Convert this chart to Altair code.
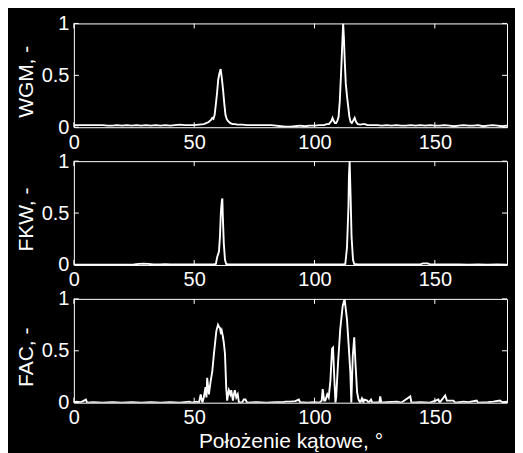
import altair as alt
import pandas as pd

X_TICKS = [0, 50, 100, 150]
Y_TICKS = [0, 0.5, 1]

# (angle, value) pairs
wgm = [(0, .02), (2, .02), (4, .02), (6, .02), (8, .02), (10, .02), (12, .02), (14, .015), (16, .015),
       (18, .02), (20, .015), (22, .02), (24, .015), (26, .02), (28, .015), (30, .02), (32, .015), (34, .02),
       (36, .015), (38, .02), (40, .015), (42, .02), (44, .025), (46, .02), (48, .02), (50, .02), (52, .025),
       (54, .03), (55, .04), (56, .05), (57, .07), (57.5, .09), (58, .08), (58.5, .12), (59, .22), (59.5, .33),
       (60, .46), (60.5, .52), (61, .56), (61.5, .47), (62, .36), (62.5, .23), (63, .12), (63.5, .08),
       (64, .06), (64.5, .05), (65, .04), (66, .03), (67, .03), (68, .025), (70, .025), (72, .02), (74, .02),
       (76, .02), (78, .02), (80, .02), (82, .02), (84, .015), (86, .01), (88, .005), (90, .005), (92, .01),
       (94, .015), (96, .01), (98, .015), (100, .015), (102, .02), (104, .02), (105, .03), (106, .03),
       (107, .06), (107.5, .09), (108, .06), (108.5, .04), (109, .04), (109.5, .06), (110, .1), (110.5, .25),
       (111, .5), (111.5, .78), (111.9, 1.0), (112.2, .87), (112.6, .62), (113, .42), (113.5, .3), (114, .2),
       (114.5, .1), (115, .05), (115.5, .04), (116, .06), (116.7, .09), (117.3, .05), (118, .03),
       (119, .025), (120, .03), (121, .03), (122, .02), (124, .02), (126, .02), (128, .015), (130, .02),
       (132, .015), (134, .02), (136, .015), (138, .015), (140, .02), (142, .015), (144, .02), (146, .015),
       (148, .02), (150, .015), (152, .015), (154, .02), (156, .015), (158, .01), (160, .015), (162, .02),
       (164, .015), (166, .015), (168, .02), (170, .01), (172, .015), (174, .02), (176, .015), (178, .01),
       (180, .015)]

fkw = [(0, .002), (5, .002), (10, .003), (15, .002), (20, .003), (25, .004), (27, .01), (29, .012),
       (31, .01), (33, .004), (36, .005), (38, .008), (40, .005), (44, .004), (48, .006), (52, .004),
       (56, .006), (58, .004), (59, .01), (59.6, .08), (60.3, .13), (60.7, .27), (61.1, .51), (61.5, .62),
       (61.7, .64), (61.9, .47), (62.3, .21), (62.8, .05), (63.3, .01), (64, .005), (68, .004), (72, .006),
       (76, .004), (80, .005), (84, .004), (88, .006), (92, .005), (96, .004), (100, .005), (104, .006),
       (108, .004), (112, .005), (112.8, .01), (113.5, .17), (114.1, .56), (114.3, .85), (114.6, 1.0),
       (115.0, .66), (115.4, .27), (116, .05), (116.5, .01), (118, .004), (122, .006), (126, .004),
       (130, .005), (134, .004), (138, .005), (142, .004), (144, .006), (145, .015), (147, .015),
       (148, .006), (152, .004), (156, .005), (160, .004), (164, .003), (168, .004), (172, .003),
       (176, .004), (180, .003)]

fac = [(0, 0), (1, .01), (3, .005), (5, .03), (5.5, 0), (8, .005), (12, 0), (16, .005), (20, 0), (24, .005),
       (28, 0), (32, .005), (36, 0), (40, .005), (44, 0), (46, .005), (48, .01), (49, 0), (51, .01), (52, 0),
       (52.7, .08), (53.4, 0), (54, .05), (54.7, .15), (55.1, .05), (55.4, .24), (56.1, .08), (56.8, .2),
       (57.5, .3), (58.2, .47), (58.8, .6), (59.2, .69), (59.9, .75), (60.3, .73), (60.7, .72), (61.0, .68),
       (61.4, .7), (61.9, .64), (62.3, .58), (62.8, .47), (63.3, .15), (63.7, .02), (64.1, .08), (64.4, .12),
       (65.0, .08), (65.4, .12), (66.1, .02), (66.5, .08), (66.9, .12), (67.5, .05), (68.1, .08), (68.6, 0),
       (70, .005), (70.6, .03), (71.3, .03), (72, 0), (76, .005), (80, 0), (84, .005), (87, .005), (88, .01),
       (90, .01), (92, .015), (93.5, .03), (94, .005), (97, 0), (100, .005), (102, 0), (103, .02),
       (103.4, .13), (104, .02), (104.5, .02), (105.3, .08), (105.9, .05), (106.6, .21), (107.3, .52),
       (107.7, .53), (108.2, .25), (108.7, 0), (109.0, .05), (109.8, .39), (110.7, .71), (111.7, .93),
       (112.5, 1.0), (113.5, .8), (114.2, .55), (114.9, .29), (115.3, 0), (115.9, .45), (116.5, .63),
       (117.0, .39), (117.7, .1), (118.3, .03), (119, 0), (119.7, .04), (120.3, 0), (120.6, .03),
       (121.9, .02), (122.5, 0), (123.5, .03), (124, 0), (127, .005), (127.3, .06), (127.8, 0), (130, .005),
       (134.3, .01), (136, 0), (139.8, .06), (140.3, 0), (144, .005), (148, 0), (151.5, .03), (152, 0),
       (154.3, .07), (155, .02), (157.7, .02), (158.5, 0), (161.9, .01), (164, .005), (167.4, .02),
       (168, 0), (172, .005), (174.3, .01), (177, .02), (178, .005), (180, .01)]

W, H = 434, 104
TICK = 5
FONT = "Liberation Sans"


def panel(pairs, ytitle, xtitle=""):
    df = pd.DataFrame(pairs, columns=["x", "y"])
    xs = alt.Scale(domain=[0, 180], nice=False, zero=False)
    ys = alt.Scale(domain=[0, 1], nice=False)
    xaxis = alt.Axis(values=X_TICKS, labelFlush=False, labelOverlap=False, title=xtitle, titlePadding=3)
    yaxis = alt.Axis(values=Y_TICKS, format="~g", labelOverlap=False, title=ytitle, titleY=H / 2 + 6)
    line = alt.Chart(df).mark_line(color="white", strokeWidth=1.9, clip=True).encode(
        x=alt.X("x:Q", scale=xs, axis=xaxis),
        y=alt.Y("y:Q", scale=ys, axis=yaxis),
    )
    xt = pd.DataFrame({"x": X_TICKS})
    yt = pd.DataFrame({"y": Y_TICKS})
    bot = alt.Chart(xt).mark_rule(color="white", strokeWidth=1).encode(
        x=alt.X("x:Q", scale=xs, axis=xaxis), y=alt.value(H), y2=alt.value(H - TICK))
    top = alt.Chart(xt).mark_rule(color="white", strokeWidth=1).encode(
        x=alt.X("x:Q", scale=xs, axis=xaxis), y=alt.value(0), y2=alt.value(TICK))
    lft = alt.Chart(yt).mark_rule(color="white", strokeWidth=1).encode(
        y=alt.Y("y:Q", scale=ys, axis=yaxis), x=alt.value(0), x2=alt.value(TICK))
    rgt = alt.Chart(yt).mark_rule(color="white", strokeWidth=1).encode(
        y=alt.Y("y:Q", scale=ys, axis=yaxis), x=alt.value(W), x2=alt.value(W - TICK))
    return alt.layer(line, bot, top, lft, rgt).properties(width=W, height=H)


p1 = panel(wgm, "WGM, -")
p2 = panel(fkw, "FKW, -")
p3 = panel(fac, "FAC, -", "Położenie kątowe, °")

chart = alt.vconcat(p1, p2, p3, spacing=34, bounds="flush").configure(
    background="black",
    padding={"left": 6, "top": 4, "right": 7, "bottom": 24},
).configure_view(
    stroke="white", strokeWidth=1
).configure_axis(
    labelFont=FONT, labelFontSize=20, labelColor="white", labelPadding=5,
    titleFont=FONT, titleFontSize=21, titleColor="white", titleFontWeight="normal", titlePadding=5,
    domain=False, ticks=False, tickSize=0, grid=False,
)

chart.save("out.html", embed_options={"renderer": "svg", "actions": False})
